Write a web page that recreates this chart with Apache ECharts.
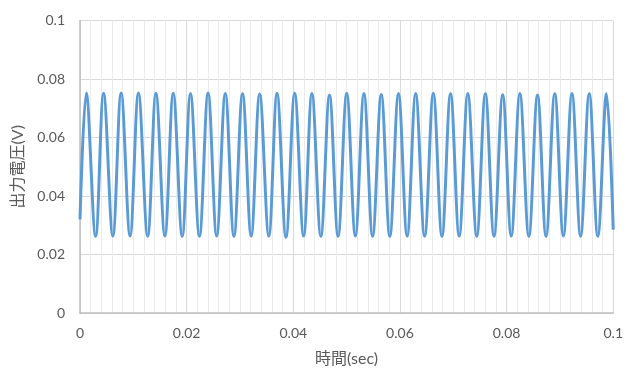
<!DOCTYPE html>
<html>
<head>
<meta charset="utf-8">
<script src="https://cdn.jsdelivr.net/npm/echarts@6/dist/echarts.min.js"></script>
<style>
  html, body { margin: 0; padding: 0; background: #ffffff; }
  #chart { width: 626px; height: 372px; }
</style>
</head>
<body>
<div id="chart"></div>
<script>
// Waveform samples: times of each crest and trough (milliseconds) and their voltages (V)
const peakTimesMs = [1.18, 4.42, 7.71, 10.96, 14.24, 17.49, 20.72, 24.02, 27.25, 30.48,
  33.69, 36.95, 40.26, 43.49, 46.79, 50.02, 53.25, 56.50, 59.72, 62.95,
  66.26, 69.49, 72.73, 76.02, 79.27, 82.49, 85.80, 89.03, 92.26, 95.50, 98.73];
const peakVolts = [0.0752, 0.0751, 0.0752, 0.0752, 0.0751, 0.0751, 0.0750, 0.0752, 0.0750, 0.0750,
  0.0749, 0.0751, 0.0751, 0.0750, 0.0745, 0.0751, 0.0750, 0.0747, 0.0750, 0.0750,
  0.0751, 0.0750, 0.0750, 0.0750, 0.0746, 0.0750, 0.0745, 0.0750, 0.0750, 0.0750, 0.0750];
const troughTimesMs = [2.93, 6.16, 9.39, 12.69, 15.92, 19.17, 22.40, 25.63, 28.87, 32.10,
  35.41, 38.63, 41.94, 45.17, 48.40, 51.64, 54.87, 58.10, 61.35, 64.63,
  67.88, 71.11, 74.41, 77.64, 80.87, 84.17, 87.40, 90.65, 93.88, 97.11];
const troughVolts = [0.0262, 0.0263, 0.0263, 0.0262, 0.0263, 0.0262, 0.0262, 0.0263, 0.0262, 0.0263,
  0.0263, 0.0259, 0.0263, 0.0262, 0.0262, 0.0263, 0.0262, 0.0262, 0.0263, 0.0262,
  0.0262, 0.0263, 0.0262, 0.0262, 0.0263, 0.0262, 0.0262, 0.0263, 0.0262, 0.0262];
// First and last recorded samples (time in ms, voltage in V)
const startSample = [0, 0.032];
const endSample = [100, 0.0285];

// Axis ticks
const xTicks = [0, 0.02, 0.04, 0.06, 0.08, 0.1];
const yTicks = [0, 0.02, 0.04, 0.06, 0.08, 0.1];

const xName = '時間(sec)';
const yName = '出力電圧(V)';

// Merge crests and troughs into one time-ordered series, converted to seconds
const samples = [startSample];
peakTimesMs.forEach((t, i) => samples.push([t, peakVolts[i]]));
troughTimesMs.forEach((t, i) => samples.push([t, troughVolts[i]]));
samples.push(endSample);
samples.sort((a, b) => a[0] - b[0]);
const seriesData = samples.map(([t, v]) => [t / 1000, v]);

const fontFamily = "Lato, 'Noto Sans CJK JP', sans-serif";
const labelColor = '#595959';

const chart = echarts.init(document.getElementById('chart'), null, { renderer: 'canvas' });
chart.setOption({
  animation: false,
  backgroundColor: '#ffffff',
  grid: { left: 80, right: 10, top: 20.5, bottom: 58, containLabel: false },
  xAxis: {
    type: 'value',
    min: xTicks[0],
    max: xTicks[xTicks.length - 1],
    interval: xTicks[1] - xTicks[0],
    name: xName,
    nameLocation: 'middle',
    nameGap: 38,
    nameTextStyle: { color: labelColor, fontSize: 16, fontFamily: fontFamily },
    axisLine: { show: true, lineStyle: { color: '#bfbfbf', width: 1.5 } },
    axisTick: { show: false },
    axisLabel: { color: labelColor, fontSize: 14, fontFamily: fontFamily, margin: 13 },
    splitLine: { show: true, lineStyle: { color: '#d9d9d9', width: 1 } },
    minorTick: { show: false, splitNumber: 10 },
    minorSplitLine: { show: true, lineStyle: { color: '#ebebeb', width: 1 } }
  },
  yAxis: {
    type: 'value',
    min: yTicks[0],
    max: yTicks[yTicks.length - 1],
    interval: yTicks[1] - yTicks[0],
    name: yName,
    nameLocation: 'middle',
    nameGap: 54,
    nameRotate: 90,
    nameTextStyle: { color: labelColor, fontSize: 16, fontFamily: fontFamily },
    axisLine: { show: true, lineStyle: { color: '#bfbfbf', width: 1.5 } },
    axisTick: { show: false },
    axisLabel: { color: labelColor, fontSize: 14, fontFamily: fontFamily, margin: 15 },
    splitLine: { show: true, lineStyle: { color: '#d9d9d9', width: 1 } }
  },
  series: [{
    type: 'line',
    data: seriesData,
    smooth: 0.36,
    showSymbol: false,
    symbol: 'none',
    clip: true,
    lineStyle: { color: '#5b9bd5', width: 3 }
  }]
});
</script>
</body>
</html>
